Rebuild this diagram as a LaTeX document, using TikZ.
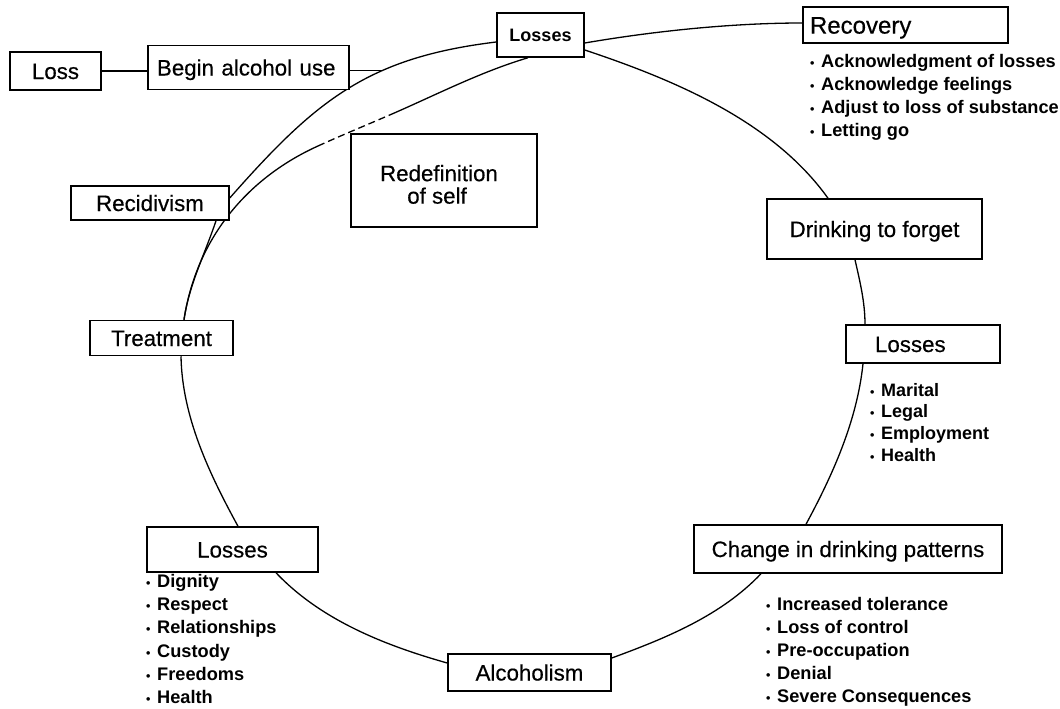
\documentclass[tikz,border=0pt]{standalone}
\usepackage{fontspec}
\setmainfont{Liberation Sans}
\newfontfamily\boxfont{Liberation Sans}[FakeBold=0.4]
\pgfdeclarelayer{bg}
\pgfsetlayers{bg,main}
\newcommand{\itm}{\makebox[11pt][l]{\fontsize{12.5}{12.5}\selectfont •}}
\begin{document}
\begin{tikzpicture}[x=1pt,y=-1pt,
  box/.style={draw, fill=white, line width=1.5pt, inner sep=0pt,
    font=\boxfont\fontsize{22.3}{24}\selectfont, text height=16pt, text depth=0pt},
  lst/.style={anchor=north west, align=left, inner sep=0pt,
    font=\bfseries\fontsize{18.2}{23}\selectfont},
  link/.style={line width=1.3pt},
  dashlink/.style={line width=1.3pt, dash pattern=on 7pt off 4pt}
]
\useasboundingbox (0,0) rectangle (1060,709);

% boxes
\node[box, minimum width=91pt, minimum height=38pt] (loss) at (55.5,71) {Loss};
\node[box, minimum height=44pt, text width=183pt, inner xsep=9pt, align=left] (begin) at (248.5,67.5) {Begin alcohol use};
\node[box, minimum width=87pt, minimum height=44pt, font=\bfseries\fontsize{18}{20}\selectfont, text height=13pt] (ltop) at (540.5,35) {Losses};
\node[box, minimum height=36pt, text width=191pt, inner xsep=7pt, align=left, font=\boxfont\fontsize{24}{26}\selectfont, text height=17.2pt] (recovery) at (905.5,25) {Recovery};
\node[draw, fill=white, line width=1.5pt, inner sep=0pt, minimum width=186pt, minimum height=93pt, align=center, font=\boxfont\fontsize{22.3}{22.5}\selectfont] (redef) at (444,180.5) {\rule{0pt}{24pt}Redefinition\hspace*{10pt}\\of self\hspace*{14pt}};
\node[box, minimum width=158pt, minimum height=34pt] (recid) at (150,203) {Recidivism};
\node[box, minimum width=215pt, minimum height=60pt] (drink) at (874.5,229) {Drinking to forget};
\node[box, minimum width=143pt, minimum height=35pt] (treat) at (161.5,338) {Treatment};
\node[box, minimum height=38pt, text width=96pt, inner xsep=29pt, align=left] (lright) at (923,344) {Losses};
\node[box, minimum width=171pt, minimum height=45pt] (lbl) at (232.5,549.5) {Losses};
\node[box, minimum width=163pt, minimum height=37pt] (alco) at (529.5,672.5) {Alcoholism};
\node[box, minimum width=308pt, minimum height=48pt] (change) at (848,549) {Change in drinking patterns};

% bullet lists
\node[lst] (reclist) at (810,53.7) {\itm Acknowledgment of losses\\\itm Acknowledge feelings\\\itm Adjust to loss of substance\\\itm Letting go};
\node[lst, font=\bfseries\fontsize{18}{21.7}\selectfont] (lrlist) at (870,383) {\itm Marital\\\itm Legal\\\itm Employment\\\itm Health};
\node[lst, font=\bfseries\fontsize{18.2}{23.1}\selectfont] (lbllist) at (146,574.4) {\itm Dignity\\\itm Respect\\\itm Relationships\\\itm Custody\\\itm Freedoms\\\itm Health};
\node[lst, font=\bfseries\fontsize{18.2}{23.1}\selectfont] (chlist) at (766,597) {\itm Increased tolerance\\\itm Loss of control\\\itm Pre-occupation\\\itm Denial\\\itm Severe Consequences};

\begin{pgfonlayer}{bg}
% main cycle
\draw[link] ([yshift=-8pt]ltop.east) .. controls +(70,-12) and +(-70,0) .. ([yshift=2pt]recovery.west);
\draw[link] ([yshift=-15pt]ltop.east) .. controls +(90,30) and +(-55,-77) .. ([xshift=-46.5pt]drink.north);
\draw[link] ([xshift=-19.5pt]drink.south) .. controls +(5,22) and +(0,-22) .. ([xshift=-58pt]lright.north);
\draw[link] ([xshift=-60pt]lright.south) .. controls +(-6,57) and +(27,-50) .. ([xshift=-42pt]change.north);
\draw[link] ([xshift=-87pt]change.south) .. controls +(-40,42) and +(54.5,-20) .. ([yshift=14.5pt]alco.east);
\draw[link] ([yshift=9.5pt]alco.west) .. controls +(-62,-17.5) and +(45,47.5) .. ([xshift=43.5pt]lbl.south);
\draw[link] ([xshift=5.5pt]lbl.north) .. controls +(-29,-53) and +(1,60) .. ([xshift=19.5pt]treat.south);
\draw[link] ([xshift=22.5pt]treat.north) .. controls +(5,-35) and +(-11,33) .. ([xshift=66pt]recid.south);
\draw[link] ([yshift=5pt]recid.east) .. controls +(86,-97.5) and +(-129,15.6) .. ([yshift=-7pt]ltop.west) coordinate[pos=0.64] (j1);
% inner spiral
\coordinate (d1) at (318,146);
\coordinate (d2) at (392,114);
\draw[link] ([xshift=22.5pt]treat.north) .. controls +(12,-79) and +(-73,33) .. (d1);
\draw[dashlink] (d1) .. controls +(23,-10.5) and +(-23,10) .. (d2);
\draw[link] (d2) .. controls +(45,-19.6) and +(-47,14) .. ([xshift=-12.5pt]ltop.south);
% side links
\draw[link] (loss.east) -- (loss.east -| begin.west);
\draw[link] (begin.east |- j1) -- (j1);
\end{pgfonlayer}
\end{tikzpicture}
\end{document}
